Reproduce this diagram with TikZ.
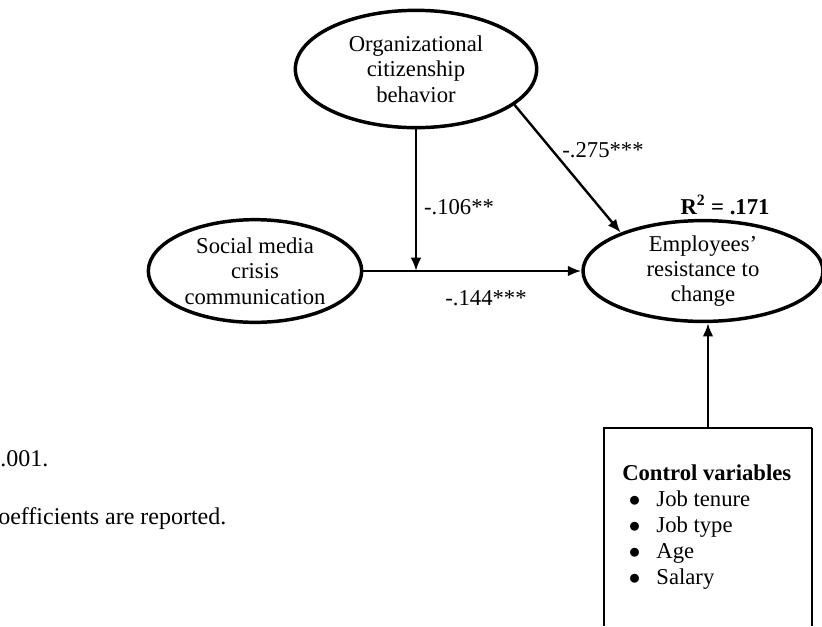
\documentclass[tikz,border=0pt]{standalone}
\usepackage{fontspec}
\setmainfont{Liberation Serif}
\usepackage{xcolor}
\usetikzlibrary{arrows.meta,shapes.geometric}
\definecolor{ink}{HTML}{000000}

\tikzset{
  construct/.style={draw=ink, ellipse, line width=2.6pt, inner sep=0pt, align=center,
    font=\fontsize{17}{19}\selectfont},
  path/.style={draw=ink, line width=1.8pt, -{Latex[length=10pt,width=8pt]}},
  coef/.style={font=\fontsize{17}{19}\selectfont, inner sep=0pt},
}

\begin{document}
\begin{tikzpicture}[x=0.75pt,y=-0.75pt]
\useasboundingbox (0,0) rectangle (822,626);

% Define the three constructs
\node[construct, minimum width=181pt, minimum height=88pt] (ocb) at (416,69)
    {Organizational\\citizenship\\behavior};
\node[construct, minimum width=160pt, minimum height=77pt] (smcc) at (255,271)
    {Social media\\crisis\\communication};
\node[construct, minimum width=180pt, minimum height=71pt] (erc) at (703,271)
    {Employees'\\resistance to\\change};

% Paths between them
\coordinate (mod) at (ocb.south |- smcc.east);
\draw[path] (smcc.east) -- (erc.west);
\draw[path] (ocb.south) -- (mod);
\draw[path] (ocb.-20) -- (erc.155);

% Coefficients
\node[coef] (c106) at (459,207) {-.106**};
\node[coef] (c275) at (603,150) {-.275***};
\node[coef] (c144) at (486,298) {-.144***};
\node[coef, font=\fontsize{17}{19}\selectfont\bfseries] (rsq) at (725,205) {R\textsuperscript{2} = .171};

% Control variables box (cut at the bottom)
\draw[ink, line width=2.2pt] (604,626) -- (604,428) -- (812,428);
\draw[ink, line width=1.6pt] (812,428) -- (812,626);
\coordinate (ctrltop) at (708,428);
\draw[path] (ctrltop) -- (ctrltop |- erc.south);
\node[coef, anchor=north west, align=left, font=\fontsize{17}{19.5}\selectfont] (ctrl) at (622,464) {
    \textbf{Control variables}\\
    \hspace{5pt}$\bullet$\hspace{12pt}Job tenure\\
    \hspace{5pt}$\bullet$\hspace{12pt}Job type\\
    \hspace{5pt}$\bullet$\hspace{12pt}Age\\
    \hspace{5pt}$\bullet$\hspace{12pt}Salary
};

% Notes at the left
\node[coef, anchor=base west, font=\fontsize{18}{20}\selectfont] (note1) at (0,466) {.001.};
\node[coef, anchor=base west, font=\fontsize{18}{20}\selectfont] (note2) at (-2,524) {oefficients are reported.};
\end{tikzpicture}
\end{document}
